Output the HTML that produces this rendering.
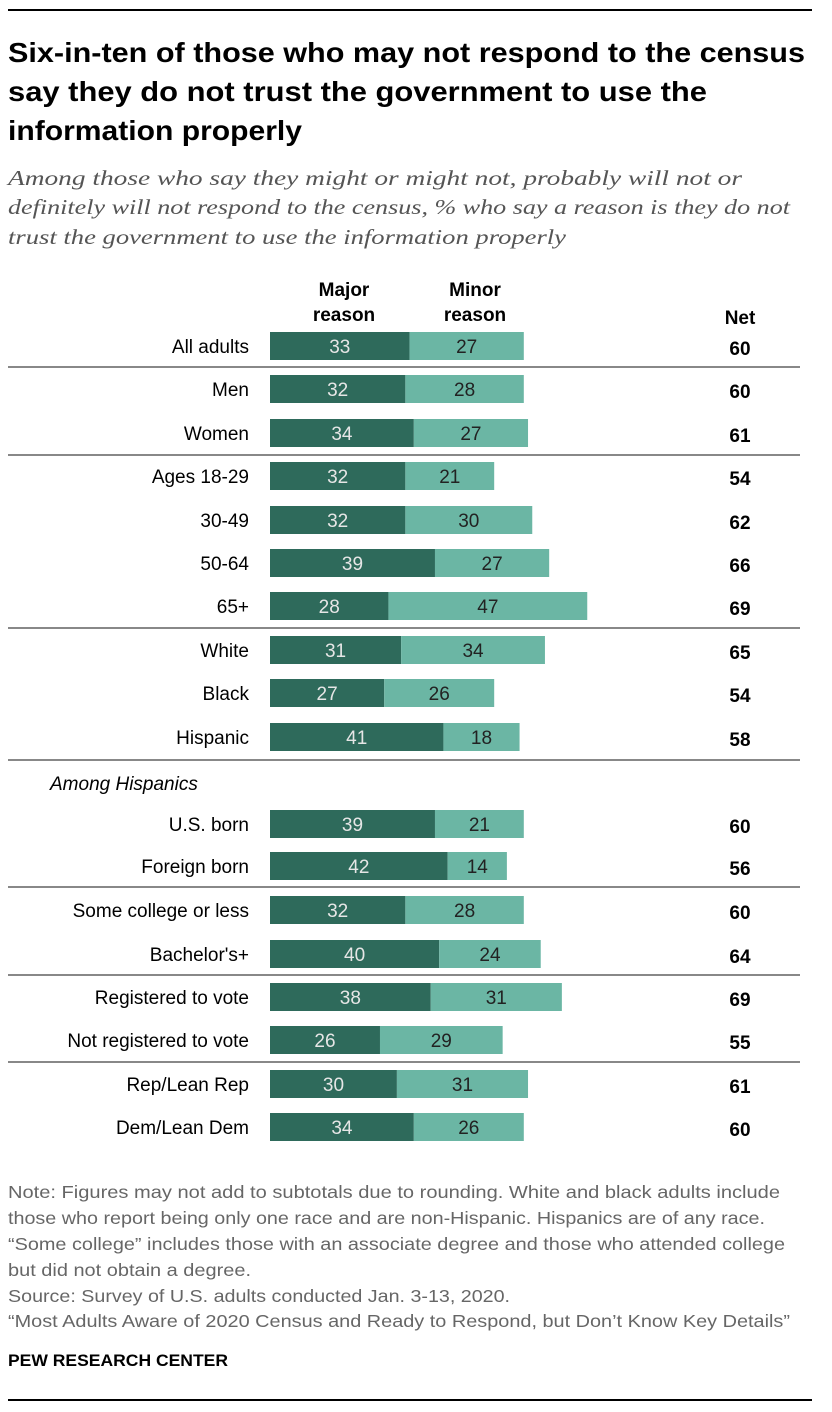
<!DOCTYPE html>
<html><head><meta charset="utf-8"><style>
body{margin:0;background:#fff;}
svg{display:block;font-family:"Liberation Sans",sans-serif;}
</style></head><body>
<svg id="c" width="832" height="1412" xmlns="http://www.w3.org/2000/svg">
<line x1="8" y1="10" x2="812" y2="10" stroke="#000" stroke-width="2"/>
<g font-family="Liberation Sans, sans-serif" font-weight="bold" font-size="27.5" fill="#000" lengthAdjust="spacingAndGlyphs">
<text x="8" y="62" textLength="797" lengthAdjust="spacingAndGlyphs">Six-in-ten of those who may not respond to the census</text>
<text x="8" y="101" textLength="699" lengthAdjust="spacingAndGlyphs">say they do not trust the government to use the</text>
<text x="8" y="140" textLength="294" lengthAdjust="spacingAndGlyphs">information properly</text>
</g>
<g font-family="Liberation Serif, serif" font-style="italic" font-size="21" fill="#555">
<text x="8" y="185" textLength="734" lengthAdjust="spacingAndGlyphs">Among those who say they might or might not, probably will not or</text>
<text x="8" y="214" textLength="782" lengthAdjust="spacingAndGlyphs">definitely will not respond to the census, % who say a reason is they do not</text>
<text x="8" y="244" textLength="558" lengthAdjust="spacingAndGlyphs">trust the government to use the information properly</text>
</g>
<g font-weight="bold" font-size="19" fill="#000" text-anchor="middle">
<text x="344" y="296">Major</text><text x="344" y="321">reason</text>
<text x="475" y="296">Minor</text><text x="475" y="321">reason</text>
<text x="740" y="324">Net</text>
</g>
<text x="50" y="790" font-style="italic" font-size="19" fill="#000">Among Hispanics</text>
<g id="rows"></g>
<g font-size="17.5" fill="#666">
<text x="8" y="1198" textLength="772" lengthAdjust="spacingAndGlyphs">Note: Figures may not add to subtotals due to rounding. White and black adults include</text>
<text x="8" y="1224" textLength="757" lengthAdjust="spacingAndGlyphs">those who report being only one race and are non-Hispanic. Hispanics are of any race.</text>
<text x="8" y="1250" textLength="777" lengthAdjust="spacingAndGlyphs">“Some college” includes those with an associate degree and those who attended college</text>
<text x="8" y="1276" textLength="243" lengthAdjust="spacingAndGlyphs">but did not obtain a degree.</text>
<text x="8" y="1302" textLength="502" lengthAdjust="spacingAndGlyphs">Source: Survey of U.S. adults conducted Jan. 3-13, 2020.</text>
<text x="8" y="1327" textLength="782" lengthAdjust="spacingAndGlyphs">“Most Adults Aware of 2020 Census and Ready to Respond, but Don’t Know Key Details”</text>
</g>
<text x="8" y="1366" font-weight="bold" font-size="17" fill="#000" textLength="220" lengthAdjust="spacingAndGlyphs">PEW RESEARCH CENTER</text>
<line x1="8" y1="1400" x2="812" y2="1400" stroke="#000" stroke-width="2"/>
</svg>
<script>
const categories=["All adults","Men","Women","Ages 18-29","30-49","50-64","65+","White","Black","Hispanic","U.S. born","Foreign born","Some college or less","Bachelor's+","Registered to vote","Not registered to vote","Rep/Lean Rep","Dem/Lean Dem"];
const majorValues=[33,32,34,32,32,39,28,31,27,41,39,42,32,40,38,26,30,34];
const minorValues=[27,28,27,21,30,27,47,34,26,18,21,14,28,24,31,29,31,26];
const netValues=[60,60,61,54,62,66,69,65,54,58,60,56,60,64,69,55,61,60];
const rowY=[346,389,433,476,520,563,606,650,693,737,824,866,910,954,997,1040,1084,1127];
const separatorY=[367,455,628,760,887,975,1062];
const NS="http://www.w3.org/2000/svg";
const x0=270, scale=4.23, barH=28;
const xs=v=>x0+v*scale;
const g=document.getElementById('rows');
function mk(tag,attrs){const e=document.createElementNS(NS,tag);for(const k in attrs)e.setAttribute(k,attrs[k]);g.appendChild(e);return e;}
separatorY.forEach(y=>{
  const l=mk('line',{x1:8,x2:800,y1:y,y2:y,stroke:'#888','stroke-width':2});
  
  
});
categories.forEach((c,i)=>{
  const y=rowY[i], m=majorValues[i], n=minorValues[i];
  const lab=mk('text',{x:249,y:y+7,'text-anchor':'end','font-size':19,fill:'#000'});
  lab.textContent=c;
  
  
  const b1=mk('rect',{x:xs(0),y:y-barH/2,width:xs(m)-xs(0),height:barH,fill:'#2e6a5b'});
  
  
  const b2=mk('rect',{x:xs(m),y:y-barH/2,width:xs(m+n)-xs(m),height:barH,fill:'#6bb6a4'});
  
  
  const t1=mk('text',{x:(xs(0)+xs(m))/2,y:y+7,'text-anchor':'middle','font-size':19,fill:'#e6e6e6'});
  t1.textContent=m;
  
  
  const t2=mk('text',{x:(xs(m)+xs(m+n))/2,y:y+7,'text-anchor':'middle','font-size':19,fill:'#222'});
  t2.textContent=n;
  
  
  const t3=mk('text',{x:740,y:y+9,'text-anchor':'middle','font-size':19,'font-weight':'bold',fill:'#000'});
  t3.textContent=netValues[i];
  
  
});
</script>
</body></html>
